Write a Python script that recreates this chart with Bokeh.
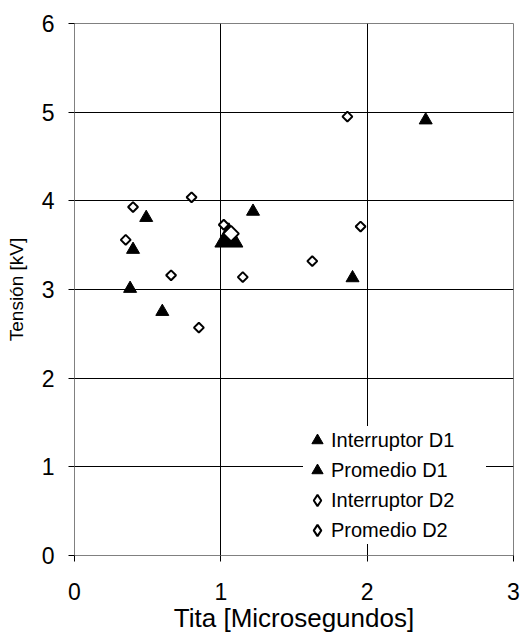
import math
from bokeh.plotting import figure
from bokeh.models import Range1d, Legend, LegendItem, FixedTicker
from bokeh.embed import file_html
from bokeh.resources import INLINE

# Data
int_d1_x = [0.49, 0.40, 0.38, 0.60, 1.22, 2.40, 1.90]
int_d1_y = [3.81, 3.45, 3.01, 2.75, 3.88, 4.91, 3.13]
prom_d1_x = [1.055]
prom_d1_y = [3.57]
int_d2_x = [0.80, 0.40, 0.35, 0.66, 0.85, 1.15, 1.02, 1.865, 1.955, 1.625]
int_d2_y = [4.04, 3.93, 3.56, 3.16, 2.57, 3.14, 3.73, 4.95, 3.71, 3.32]
prom_d2_x = [1.07]
prom_d2_y = [3.63]
x_ticks = [0, 1, 2, 3]
y_ticks = [0, 1, 2, 3, 4, 5, 6]

FONT = "Liberation Sans"

p = figure(width=523, height=635, output_backend="svg", toolbar_location=None,
           x_range=Range1d(0, 3), y_range=Range1d(0, 6),
           min_border_left=74, min_border_right=10, min_border_top=23, min_border_bottom=78)
p.background_fill_color = "white"
p.border_fill_color = "white"
p.outline_line_color = "#808080"
p.outline_line_width = 1

for ax in (p.xaxis[0], p.yaxis[0]):
    ax.axis_line_color = "#808080"
    ax.major_tick_line_color = "black"
    ax.minor_tick_line_color = None
    ax.major_tick_out = 6
    ax.major_tick_in = 0
    ax.major_label_text_font = FONT
    ax.major_label_text_font_size = "23px"
    ax.major_label_text_color = "black"
    ax.axis_label_text_font = FONT
    ax.axis_label_text_font_style = "normal"
    ax.axis_label_text_color = "black"

p.xaxis.ticker = FixedTicker(ticks=x_ticks)
p.yaxis.ticker = FixedTicker(ticks=y_ticks)
p.xaxis.axis_label = "Tita [Microsegundos]"
p.yaxis.axis_label = "Tensión [kV]"
p.xaxis.axis_label_text_font_size = "26px"
p.yaxis.axis_label_text_font_size = "19px"
p.xaxis.major_label_standoff = 21
p.yaxis.major_label_standoff = 14
p.xaxis.axis_label_standoff = 0
p.yaxis.axis_label_standoff = 12

p.xgrid.ticker = FixedTicker(ticks=x_ticks)
p.ygrid.ticker = FixedTicker(ticks=y_ticks)
p.grid.grid_line_color = "black"
p.grid.grid_line_width = 1

r1 = p.scatter(int_d1_x, int_d1_y, marker="triangle", size=13,
               fill_color="black", line_color="black", line_width=1)
r2 = p.scatter(prom_d1_x, prom_d1_y, marker="triangle", size=28,
               fill_color="black", line_color="black", line_width=1)

# small diamond-shaped copies underneath the rotated squares; they give the
# legend its diamond symbol and are hidden by the squares drawn on top
l3 = p.scatter(int_d2_x, int_d2_y, marker="diamond", size=3, fill_color="white",
               line_color="black", line_width=2)
l4 = p.scatter(prom_d2_x, prom_d2_y, marker="diamond", size=3, fill_color="white",
               line_color="black", line_width=2.2)

r3 = p.scatter(int_d2_x, int_d2_y, marker="square", size=7, angle=math.pi / 4,
               fill_color="white", line_color="black", line_width=2)
r4 = p.scatter(prom_d2_x, prom_d2_y, marker="square", size=11, angle=math.pi / 4,
               fill_color="white", line_color="black", line_width=2)

legend = Legend(items=[
    LegendItem(label="Interruptor D1", renderers=[r1]),
    LegendItem(label="Promedio D1", renderers=[r2]),
    LegendItem(label="Interruptor D2", renderers=[l3]),
    LegendItem(label="Promedio D2", renderers=[l4]),
], location=(229, 11))
legend.label_text_font = FONT
legend.label_text_font_size = "20px"
legend.label_text_color = "black"
legend.glyph_width = 28
legend.glyph_height = 28
legend.label_height = 28
legend.label_width = 155
legend.spacing = 2
legend.label_standoff = 0
legend.padding = 6
legend.margin = 0
legend.border_line_color = None
legend.background_fill_color = "white"
legend.background_fill_alpha = 1
p.add_layout(legend, "center")

open("out.html", "w").write(file_html(p, INLINE))
